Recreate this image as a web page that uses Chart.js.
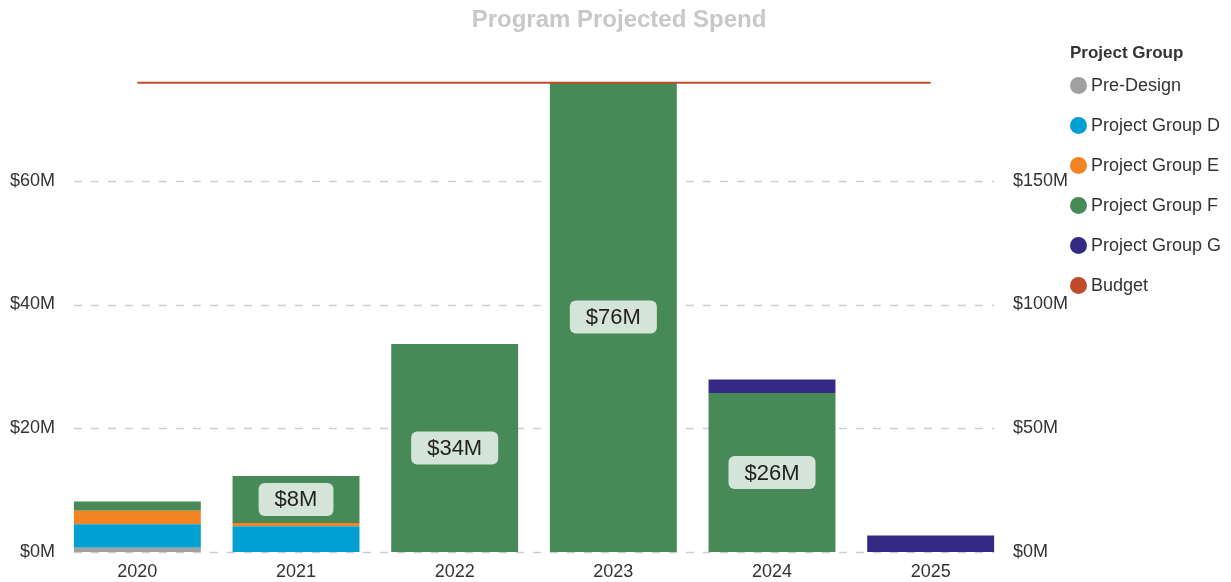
<!DOCTYPE html>
<html>
<head>
<meta charset="utf-8">
<title>Program Projected Spend</title>
<script src="https://cdn.jsdelivr.net/npm/chart.js@4.4.0/dist/chart.umd.min.js"></script>
<style>
  html, body { margin: 0; padding: 0; background: #fff; }
  #wrap { position: relative; width: 1231px; height: 582px; }
  #legend { position: absolute; left: 1070px; top: 42px; font-family: "Liberation Sans", Arial, sans-serif; color: #333; }
  #legend .ttl { font-weight: bold; font-size: 17px; height: 22px; line-height: 22px; margin-bottom: 1px; }
  #legend .item { display: flex; align-items: center; height: 40px; font-size: 18px; white-space: nowrap; }
  #legend .dot { width: 17px; height: 17px; border-radius: 50%; margin-right: 4px; flex: none; }
</style>
</head>
<body>
<div id="wrap">
  <canvas id="graficoSpend"></canvas>
  <div id="legend"></div>
</div>
<script>
// Program Projected Spend ($M)
const years = ['2020', '2021', '2022', '2023', '2024', '2025'];

const preDesign = [0.7, 0, 0, 0, 0, 0];
const groupD = [3.8, 4.15, 0, 0, 0, 0];
const groupE = [2.15, 0.55, 0, 0, 0, 0];
const groupF = [1.5, 7.6, 33.6, 76, 25.7, 0];
const groupG = [0, 0, 0, 0, 2.2, 2.65];
const budget = [190, 190, 190, 190, 190, 190];

const leftTicks = [0, 20, 40, 60];
const rightTicks = [0, 50, 100, 150];

const fontFam = '"Liberation Sans", Arial, sans-serif';

const legendItems = [
  ['Pre-Design', '#a0a0a0'],
  ['Project Group D', '#00a0d2'],
  ['Project Group E', '#f28522'],
  ['Project Group F', '#478a58'],
  ['Project Group G', '#342a86'],
  ['Budget', '#c04a2a'],
];

// legend
const legendDiv = document.getElementById('legend');
let html = '<div class="ttl">Project Group</div>';
legendItems.forEach(function (it) {
  html += '<div class="item"><span class="dot" style="background:' + it[1] + '"></span>' + it[0] + '</div>';
});
legendDiv.innerHTML = html;

// dashed grid only across the bars
const dashGrid = {
  id: 'dashGrid',
  beforeDatasetsDraw(chart) {
    const ctx = chart.ctx;
    const y = chart.scales.y;
    const meta = chart.getDatasetMeta(3);
    const first = meta.data[0];
    const last = meta.data[meta.data.length - 1];
    const x0 = first.x - first.width / 2;
    const x1 = last.x + last.width / 2;
    ctx.save();
    ctx.strokeStyle = '#cdcdcd';
    ctx.lineWidth = 1.5;
    ctx.setLineDash([8, 9]);
    leftTicks.forEach(function (v) {
      const py = Math.round(y.getPixelForValue(v)) + 0.5;
      ctx.beginPath();
      ctx.moveTo(x0, py);
      ctx.lineTo(x1, py);
      ctx.stroke();
    });
    ctx.restore();
  }
};

// labels on group F
const boxLabels = {
  id: 'boxLabels',
  afterDatasetsDraw(chart) {
    const ctx = chart.ctx;
    const meta = chart.getDatasetMeta(3);
    ctx.save();
    ctx.font = '22px ' + fontFam;
    ctx.textAlign = 'center';
    ctx.textBaseline = 'middle';
    meta.data.forEach(function (bar, i) {
      const v = groupF[i];
      if (v < 5) return;
      const txt = '$' + Math.round(v) + 'M';
      const w = ctx.measureText(txt).width + 32;
      const h = 33;
      const cx = bar.x;
      const cy = (bar.y + bar.base) / 2;
      ctx.fillStyle = '#d5e4d8';
      ctx.beginPath();
      ctx.roundRect(cx - w / 2, cy - h / 2, w, h, 6);
      ctx.fill();
      ctx.fillStyle = '#222';
      ctx.fillText(txt, cx, cy + 1);
    });
    ctx.restore();
  }
};

const dataSpend = {
  labels: years,
  datasets: [
    { label: 'Pre-Design', data: preDesign, backgroundColor: legendItems[0][1], yAxisID: 'y', order: 2 },
    { label: 'Project Group D', data: groupD, backgroundColor: legendItems[1][1], yAxisID: 'y', order: 2 },
    { label: 'Project Group E', data: groupE, backgroundColor: legendItems[2][1], yAxisID: 'y', order: 2 },
    { label: 'Project Group F', data: groupF, backgroundColor: legendItems[3][1], yAxisID: 'y', order: 2 },
    { label: 'Project Group G', data: groupG, backgroundColor: legendItems[4][1], yAxisID: 'y', order: 2 },
    {
      type: 'line',
      label: 'Budget',
      data: budget,
      borderColor: legendItems[5][1],
      backgroundColor: legendItems[5][1],
      borderWidth: 4,
      pointRadius: 0,
      yAxisID: 'y1',
      order: 1,
    },
  ]
};

const tickStyle = { color: '#333', font: { family: fontFam, size: 18 } };

const configSpend = {
  type: 'bar',
  data: dataSpend,
  options: {
    responsive: true,
    maintainAspectRatio: false,
    animation: false,
    categoryPercentage: 0.8,
    barPercentage: 1,
    layout: { padding: { left: 7, right: 0, top: 0, bottom: 0 } },
    plugins: {
      legend: { display: false },
      tooltip: { enabled: false },
      title: {
        display: true,
        text: 'Program Projected Spend',
        color: '#c8c8c8',
        font: { family: fontFam, size: 24, weight: 'bold' },
        padding: { top: 6, bottom: 47 }
      }
    },
    scales: {
      x: {
        stacked: true,
        grid: { display: false, drawTicks: false },
        border: { display: false },
        afterFit: function (s) { s.height = 30; },
        ticks: Object.assign({ padding: 9 }, tickStyle)
      },
      y: {
        stacked: true,
        position: 'left',
        min: 0,
        max: 76,
        grid: { display: false, drawTicks: false },
        border: { display: false },
        afterBuildTicks: function (s) { s.ticks = leftTicks.map(v => ({ value: v })); },
        ticks: Object.assign({ padding: 3, callback: v => '$' + v + 'M' }, tickStyle)
      },
      y1: {
        position: 'right',
        min: 0,
        max: 190,
        grid: { display: false, drawTicks: false },
        border: { display: false },
        afterFit: function (s) { s.width = 221; },
        afterBuildTicks: function (s) { s.ticks = rightTicks.map(v => ({ value: v })); },
        ticks: Object.assign({ padding: 3, callback: v => '$' + v + 'M' }, tickStyle)
      }
    }
  },
  plugins: [dashGrid, boxLabels]
};

const myChart = new Chart(
  document.getElementById('graficoSpend'),
  configSpend
);
</script>
</body>
</html>
